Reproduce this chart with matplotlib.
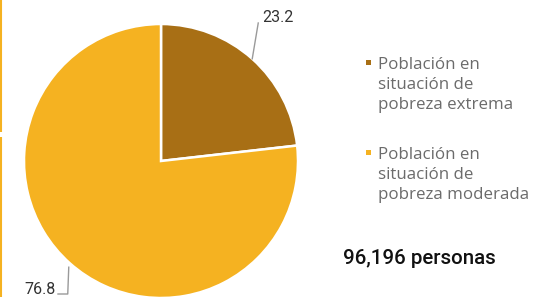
import numpy as np
import matplotlib.pyplot as plt

plt.rcParams['font.family'] = ['Roboto', 'DejaVu Sans']

categorias = ['Población en\nsituación de\npobreza extrema',
              'Población en\nsituación de\npobreza moderada']
porcentajes = [23.2, 76.8]
colores = ['#A86F15', '#F5B221']
total = '96,196 personas'

W, H = 535, 297
fig = plt.figure(figsize=(W / 100, H / 100), dpi=100)
ax = fig.add_axes([0, 0, 1, 1])

cx, cy, r = 161, H - 161, 137
wedges, _ = ax.pie(porcentajes, colors=colores, startangle=90, counterclock=False,
                   center=(cx, cy), radius=r, frame=True,
                   wedgeprops=dict(edgecolor='white', linewidth=1.8))
ax.set_xlim(0, W)
ax.set_ylim(0, H)
ax.set_aspect('equal')
ax.axis('off')

gris = '#9a9a9a'
# etiqueta 23.2
w = wedges[0]
a = np.deg2rad((w.theta1 + w.theta2) / 2)
px, py = cx + r * np.cos(a), cy + r * np.sin(a)
ax.plot([px, px + 6], [py, H - 23], color=gris, lw=1)
ax.text(px + 10, H - 18, f'{porcentajes[0]:.1f}', fontsize=11.5, color='#333333',
        ha='left', va='center')

# etiqueta 76.8
w = wedges[1]
a = np.deg2rad((w.theta1 + w.theta2) / 2)
px, py = cx + r * np.cos(a), cy + r * np.sin(a)
ax.plot([px - 1, px - 2, 58], [py - 4, H - 294, H - 294], color=gris, lw=1)
ax.text(56, H - 290, f'{porcentajes[1]:.1f}', fontsize=11.5, color='#333333',
        ha='right', va='center')

# leyenda
for i, (cat, col) in enumerate(zip(categorias, colores)):
    y0 = H - 62 - i * 90
    ax.add_patch(plt.Rectangle((366, y0 - 2.5), 5, 5, color=col, lw=0))
    ax.text(378, y0 + 5, cat, fontsize=12.2, color='#6b6b6b', ha='left', va='top',
            linespacing=1.32, family=['Open Sans', 'DejaVu Sans'])

ax.text(343, H - 258, total, fontsize=14.8, color='#111111', ha='left', va='center',
        fontweight='medium')

# borde izquierdo de grafico vecino
ax.plot([1, 1], [H, H - 132], color='#F5B221', lw=1.5, solid_capstyle='butt')
ax.plot([1, 1], [H - 137, 0], color='#F5B221', lw=1.5, solid_capstyle='butt')

fig.savefig('out.png', dpi=100)
